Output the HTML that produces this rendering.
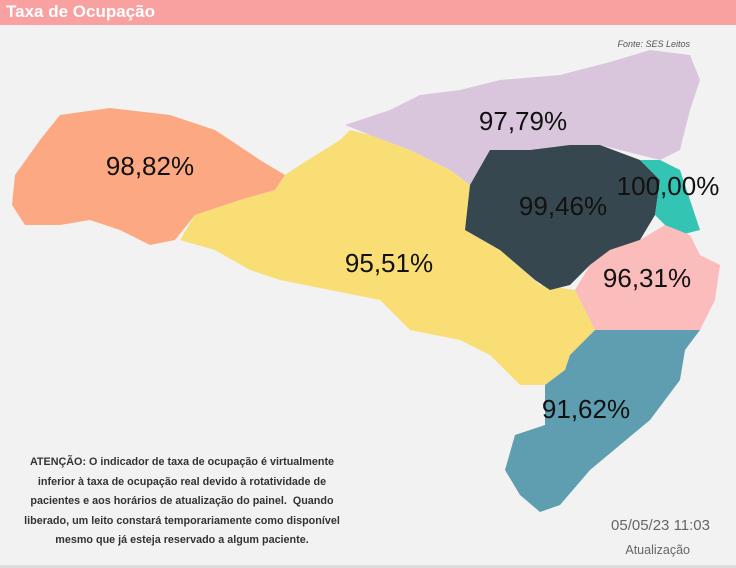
<!DOCTYPE html>
<html><head><meta charset="utf-8"><style>
body{margin:0;width:736px;height:568px;background:#f2f2f2;font-family:"Liberation Sans",sans-serif;overflow:hidden;position:relative}
.hd{position:absolute;left:0;top:0;width:736px;height:25px;background:#f9a0a0;color:#fff;font-size:17px;font-weight:bold;line-height:24px;padding-left:6px;box-sizing:border-box}
.src{position:absolute;right:46px;top:39px;font-size:9px;font-style:italic;color:#555}
.note{position:absolute;left:-18px;top:453px;width:400px;text-align:center;font-size:11px;font-weight:bold;color:#333;line-height:19.6px;transform:scaleX(0.98);transform-origin:200px 0;white-space:nowrap}
.dt{position:absolute;right:26px;top:517px;font-size:15px;color:#666}
.at{position:absolute;right:46px;top:543px;font-size:12.5px;color:#666}
.bot{position:absolute;left:0;top:565px;width:736px;height:3px;background:#ddd}
</style></head><body>
<div class="hd">Taxa de Ocupação</div>
<div class="src">Fonte: SES Leitos</div>
<svg width="736" height="568" style="position:absolute;left:0;top:0">
<polygon fill="#fca882" points="15,175 40,140 60,115 110,108 170,115 215,130 260,160 285,175 275,190 240,200 195,215 175,240 150,245 120,230 90,220 60,225 25,225 12,205"/>
<polygon fill="#f9dd75" points="180,240 195,215 240,200 275,190 285,175 300,165 340,140 350,130 370,135 410,150 450,170 470,185 465,230 500,250 540,285 575,290 590,320 595,330 570,355 565,370 545,385 520,385 490,355 460,340 410,330 380,300 330,290 280,280 250,270 215,250"/>
<polygon fill="#dac6dc" points="345,125 390,110 420,95 460,90 500,80 560,75 610,62 650,50 690,55 700,80 690,110 680,150 660,160 640,155 600,145 570,150 530,150 490,150 470,185 450,170 410,150 370,135"/>
<polygon fill="#37474f" points="470,185 490,150 530,150 570,145 600,145 640,160 660,180 655,215 640,240 610,250 590,265 570,285 550,290 535,280 500,250 465,230"/>
<polygon fill="#33c4b3" points="640,160 660,160 680,170 690,200 700,230 680,235 665,225 655,215 660,180"/>
<polygon fill="#fbbcbc" points="590,265 610,250 640,240 665,225 690,235 700,255 720,265 715,300 700,330 650,330 610,330 595,330 590,320 575,290"/>
<polygon fill="#5f9eb0" points="595,330 650,330 700,330 685,350 680,380 650,420 620,445 590,470 560,505 540,512 520,495 505,470 515,435 545,425 545,385 565,370 570,355"/>
<g font-family="Liberation Sans" font-size="26" fill="#111" text-anchor="middle">
<text x="150" y="175">98,82%</text>
<text x="523" y="130">97,79%</text>
<text x="563" y="215">99,46%</text>
<text x="668" y="195">100,00%</text>
<text x="389" y="272">95,51%</text>
<text x="647" y="287">96,31%</text>
<text x="586" y="418">91,62%</text>
</g>
</svg>
<div class="note">ATENÇÃO: O indicador de taxa de ocupação é virtualmente<br>inferior à taxa de ocupação real devido à rotatividade de<br>pacientes e aos horários de atualização do painel.&nbsp; Quando<br>liberado, um leito constará temporariamente como disponível<br>mesmo que já esteja reservado a algum paciente.</div>
<div class="dt">05/05/23 11:03</div>
<div class="at">Atualização</div>
<div class="bot"></div>
</body></html>
